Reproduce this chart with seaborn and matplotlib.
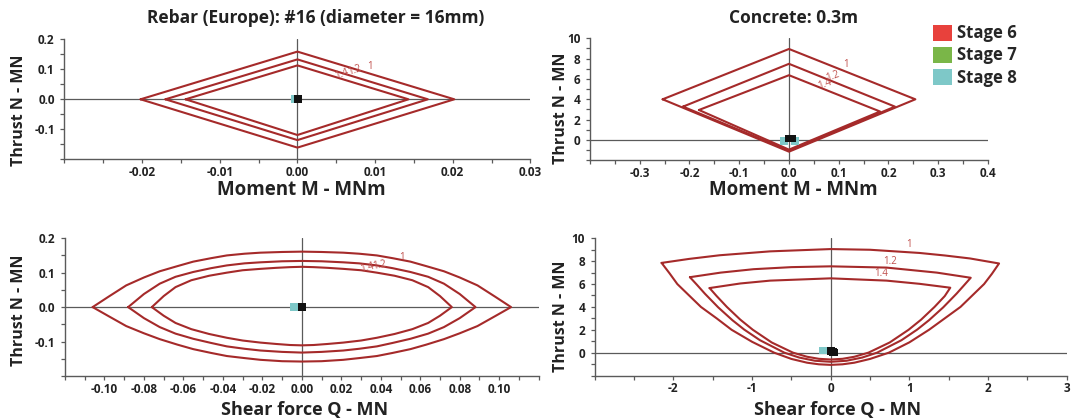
import matplotlib
matplotlib.use('Agg')
import matplotlib.pyplot as plt
from matplotlib.patches import Patch
from matplotlib.ticker import MultipleLocator, FormatStrFormatter
import seaborn as sns

# Style
sns.set_style('ticks')
plt.rcParams['font.family'] = ['Open Sans', 'DejaVu Sans']
plt.rcParams['axes.unicode_minus'] = False

curve_color = '#a52a2a'
axis_grey = '#5a5a5a'
label_red = '#c0504d'
stage_names = ['Stage 6', 'Stage 7', 'Stage 8']
stage_colors = ['#e8413c', '#7ab648', '#7ec8c8']
factor_labels = ['1', '1.2', '1.4']

# Rebar, moment vs thrust (safety factor 1, 1.2, 1.4)
rebar_m_1 = [-0.0202, 0.0, 0.0202, 0.0, -0.0202]
rebar_n_1 = [0.0, 0.159, 0.0, -0.161, 0.0]
rebar_m_12 = [-0.0170, 0.0, 0.0168, 0.0, -0.0170]
rebar_n_12 = [0.0, 0.133, 0.0, -0.136, 0.0]
rebar_m_14 = [-0.0144, 0.0, 0.0143, 0.0, -0.0144]
rebar_n_14 = [0.0, 0.113, 0.0, -0.119, 0.0]

# Concrete, moment vs thrust
conc_m_1 = [-0.254, 0.0, 0.254, 0.0, -0.254]
conc_n_1 = [4.0, 8.95, 4.0, -1.15, 4.0]
conc_m_12 = [-0.213, 0.0, 0.213, 0.0, -0.213]
conc_n_12 = [3.28, 7.49, 3.28, -1.05, 3.28]
conc_m_14 = [-0.181, 0.0, 0.183, 0.0, -0.181]
conc_n_14 = [2.95, 6.37, 2.80, -0.95, 2.95]

# Rebar, shear vs thrust (upper arc left->right, lower arc right->left)
rebar_q_1 = [-0.106, -0.098, -0.089, -0.080, -0.072, -0.063, -0.055, -0.046, -0.038, -0.029, -0.021, -0.010, 0.0,
             0.010, 0.021, 0.029, 0.038, 0.046, 0.055, 0.063, 0.072, 0.080, 0.089, 0.098, 0.106,
             0.098, 0.089, 0.080, 0.072, 0.063, 0.055, 0.046, 0.038, 0.029, 0.021, 0.010, 0.0,
             -0.010, -0.021, -0.029, -0.038, -0.046, -0.055, -0.063, -0.072, -0.080, -0.089, -0.098, -0.106]
rebar_qn_1 = [0.0, 0.030, 0.063, 0.086, 0.104, 0.119, 0.132, 0.142, 0.150, 0.155, 0.158, 0.160, 0.161,
              0.160, 0.158, 0.155, 0.150, 0.142, 0.132, 0.119, 0.104, 0.086, 0.063, 0.030, 0.0,
              -0.026, -0.055, -0.076, -0.093, -0.109, -0.122, -0.133, -0.142, -0.148, -0.153, -0.157, -0.158,
              -0.157, -0.153, -0.148, -0.142, -0.133, -0.122, -0.109, -0.093, -0.076, -0.055, -0.026, 0.0]
rebar_q_12 = [-0.088, -0.080, -0.072, -0.064, -0.055, -0.046, -0.038, -0.029, -0.021, -0.010, 0.0,
              0.010, 0.021, 0.029, 0.038, 0.046, 0.055, 0.064, 0.072, 0.080, 0.088,
              0.080, 0.072, 0.064, 0.055, 0.046, 0.038, 0.029, 0.021, 0.010, 0.0,
              -0.010, -0.021, -0.029, -0.038, -0.046, -0.055, -0.064, -0.072, -0.080, -0.088]
rebar_qn_12 = [0.0, 0.038, 0.068, 0.088, 0.102, 0.113, 0.121, 0.127, 0.130, 0.133, 0.134,
               0.133, 0.130, 0.127, 0.121, 0.113, 0.102, 0.088, 0.068, 0.038, 0.0,
               -0.032, -0.058, -0.077, -0.092, -0.104, -0.114, -0.121, -0.126, -0.130, -0.132,
               -0.130, -0.126, -0.121, -0.114, -0.104, -0.092, -0.077, -0.058, -0.032, 0.0]
rebar_q_14 = [-0.076, -0.070, -0.064, -0.056, -0.047, -0.038, -0.030, -0.021, -0.013, -0.006, 0.0,
              0.006, 0.013, 0.021, 0.030, 0.038, 0.047, 0.056, 0.064, 0.070, 0.076,
              0.070, 0.064, 0.056, 0.047, 0.038, 0.030, 0.021, 0.013, 0.006, 0.0,
              -0.006, -0.013, -0.021, -0.030, -0.038, -0.047, -0.056, -0.064, -0.070, -0.076]
rebar_qn_14 = [0.0, 0.032, 0.058, 0.078, 0.091, 0.100, 0.107, 0.111, 0.114, 0.116, 0.117,
               0.116, 0.114, 0.111, 0.107, 0.100, 0.091, 0.078, 0.058, 0.032, 0.0,
               -0.025, -0.046, -0.064, -0.078, -0.089, -0.097, -0.103, -0.107, -0.110, -0.111,
               -0.110, -0.107, -0.103, -0.097, -0.089, -0.078, -0.064, -0.046, -0.025, 0.0]

# Concrete, shear vs thrust (lower bowl left->right, then top arc right->left)
conc_q_1 = [-2.15, -2.05, -1.95, -1.80, -1.65, -1.45, -1.26, -1.00, -0.72, -0.50, -0.30, -0.15, 0.0,
            0.15, 0.30, 0.50, 0.74, 1.00, 1.25, 1.45, 1.65, 1.80, 1.95, 2.05, 2.14,
            1.77, 1.45, 1.13, 0.50, 0.0, -0.77, -1.41, -1.80, -2.15]
conc_qn_1 = [7.85, 6.95, 6.0, 5.0, 4.0, 3.0, 2.0, 0.95, 0.0, -0.55, -0.88, -1.02, -1.07,
             -1.02, -0.88, -0.55, 0.0, 0.90, 2.0, 3.0, 4.0, 5.0, 6.0, 6.90, 7.80,
             8.24, 8.50, 8.72, 9.0, 9.06, 8.86, 8.52, 8.20, 7.85]
conc_q_12 = [-1.79, -1.70, -1.60, -1.43, -1.25, -1.10, -0.90, -0.59, -0.40, -0.20, 0.0,
             0.20, 0.40, 0.59, 0.90, 1.10, 1.25, 1.43, 1.60, 1.70, 1.78,
             1.35, 0.71, 0.0, -0.50, -0.98, -1.40, -1.79]
conc_qn_12 = [6.60, 5.93, 5.16, 3.96, 2.84, 2.02, 1.09, 0.0, -0.43, -0.71, -0.80,
              -0.71, -0.43, 0.0, 1.09, 2.02, 2.84, 3.96, 5.16, 5.93, 6.55,
              7.0, 7.44, 7.55, 7.48, 7.30, 7.0, 6.60]
conc_q_14 = [-1.54, -1.45, -1.32, -1.15, -0.99, -0.75, -0.48, -0.30, -0.15, 0.0,
             0.15, 0.30, 0.48, 0.75, 0.99, 1.15, 1.32, 1.45, 1.52,
             1.13, 0.71, 0.0, -0.77, -1.15, -1.54]
conc_qn_14 = [5.65, 4.95, 4.0, 2.89, 2.0, 0.89, 0.0, -0.36, -0.54, -0.60,
              -0.54, -0.36, 0.0, 0.89, 2.0, 2.89, 4.0, 4.95, 5.68,
              6.02, 6.30, 6.50, 6.30, 6.05, 5.65]

# Stage results (teal = stage 8, black = plotted on top)
rebar_m_s8 = [-0.0003]
rebar_n_s8 = [0.0]
rebar_m_pt = [0.0001]
rebar_n_pt = [0.0]
conc_m_s8 = [-0.010, 0.012]
conc_n_s8 = [-0.1, -0.1]
conc_m_pt = [0.0, 0.006]
conc_n_pt = [0.15, 0.15]
rebar_q_s8 = [-0.004]
rebar_qn_s8 = [0.0]
rebar_q_pt = [0.0]
rebar_qn_pt = [0.0]
conc_q_s8 = [-0.10]
conc_qn_s8 = [0.2]
conc_q_pt = [0.0, 0.03, 0.05]
conc_qn_pt = [0.15, 0.05, 0.0]

# Curve label positions (x, y) per factor
rebar_m_lab = [(0.0094, 0.109), (0.0074, 0.096), (0.0057, 0.085)]
conc_m_lab = [(0.115, 7.39), (0.087, 6.24), (0.072, 5.51)]
rebar_q_lab = [(0.0505, 0.145), (0.0394, 0.122), (0.033, 0.113)]
conc_q_lab = [(0.99, 9.43), (0.76, 8.0), (0.64, 6.93)]

fig = plt.figure(figsize=(10.78, 4.19), dpi=100)
ax1 = fig.add_axes([0.0598, 0.6198, 0.4322, 0.2864])
ax2 = fig.add_axes([0.5473, 0.6174, 0.3692, 0.2912])
ax3 = fig.add_axes([0.0603, 0.1026, 0.4394, 0.3289])
ax4 = fig.add_axes([0.5517, 0.1038, 0.4378, 0.3274])


def draw_curves(ax, curves):
    for xs, ys in curves:
        sns.lineplot(x=xs, y=ys, sort=False, estimator=None, color=curve_color, lw=1.5, ax=ax)


def draw_points(ax, xs8, ys8, xpt, ypt, size):
    sns.scatterplot(x=xs8, y=ys8, marker='s', s=size, color=stage_colors[2], edgecolor='none', ax=ax, zorder=5)
    sns.scatterplot(x=xpt, y=ypt, marker='s', s=size, color='#111111', edgecolor='none', ax=ax, zorder=6)


def style_axis(ax, xlim, ylim, xmin, ymin, xfmt, yfmt, xticks, yticks):
    ax.set_xlim(xlim)
    ax.set_ylim(ylim)
    ax.axhline(0, color=axis_grey, lw=0.9, zorder=1)
    ax.axvline(0, color=axis_grey, lw=0.9, zorder=1)
    ax.set_xticks(xticks)
    ax.set_yticks(yticks)
    ax.xaxis.set_minor_locator(MultipleLocator(xmin))
    ax.yaxis.set_minor_locator(MultipleLocator(ymin))
    ax.xaxis.set_major_formatter(FormatStrFormatter(xfmt))
    ax.yaxis.set_major_formatter(FormatStrFormatter(yfmt))
    for side in ['top', 'right']:
        ax.spines[side].set_visible(False)
    for side in ['left', 'bottom']:
        ax.spines[side].set_color(axis_grey)
        ax.spines[side].set_linewidth(1.0)
    ax.tick_params(which='both', direction='out', length=3, width=0.9, color=axis_grey,
                   labelsize=8.5, labelcolor='#222222', pad=4)
    ax.tick_params(axis='x', which='both', pad=2)
    for lab in ax.get_xticklabels() + ax.get_yticklabels():
        lab.set_fontweight('bold')
    ax.set_xlabel('')
    ax.set_ylabel('')


def put_labels(ax, positions, rots):
    for (x, y), txt, r in zip(positions, factor_labels, rots):
        ax.text(x, y, txt, color=label_red, fontsize=7, rotation=r, ha='center', va='center', zorder=7)


# Panel 1
draw_curves(ax1, [(rebar_m_1, rebar_n_1), (rebar_m_12, rebar_n_12), (rebar_m_14, rebar_n_14)])
draw_points(ax1, rebar_m_s8, rebar_n_s8, rebar_m_pt, rebar_n_pt, 30)
style_axis(ax1, (-0.03, 0.03), (-0.2, 0.2), 0.005, 0.05, '%.2f', '%.1f',
           [-0.02, -0.01, 0.0, 0.01, 0.02, 0.03], [-0.1, 0.0, 0.1, 0.2])
put_labels(ax1, rebar_m_lab, [0, 20, 20])

# Panel 2
draw_curves(ax2, [(conc_m_1, conc_n_1), (conc_m_12, conc_n_12), (conc_m_14, conc_n_14)])
draw_points(ax2, conc_m_s8, conc_n_s8, conc_m_pt, conc_n_pt, 30)
style_axis(ax2, (-0.4, 0.4), (-2, 10), 0.05, 1, '%.1f', '%d',
           [-0.3, -0.2, -0.1, 0.0, 0.1, 0.2, 0.3, 0.4], [0, 2, 4, 6, 8, 10])
put_labels(ax2, conc_m_lab, [0, 20, 20])

# Panel 3
draw_curves(ax3, [(rebar_q_1, rebar_qn_1), (rebar_q_12, rebar_qn_12), (rebar_q_14, rebar_qn_14)])
draw_points(ax3, rebar_q_s8, rebar_qn_s8, rebar_q_pt, rebar_qn_pt, 30)
style_axis(ax3, (-0.12, 0.12), (-0.2, 0.2), 0.01, 0.05, '%.2f', '%.1f',
           [-0.10, -0.08, -0.06, -0.04, -0.02, 0.0, 0.02, 0.04, 0.06, 0.08, 0.10], [-0.1, 0.0, 0.1, 0.2])
put_labels(ax3, rebar_q_lab, [0, 10, 15])

# Panel 4
draw_curves(ax4, [(conc_q_1, conc_qn_1), (conc_q_12, conc_qn_12), (conc_q_14, conc_qn_14)])
draw_points(ax4, conc_q_s8, conc_qn_s8, conc_q_pt, conc_qn_pt, 30)
style_axis(ax4, (-3, 3), (-2, 10), 0.5, 1, '%d', '%d',
           [-2, -1, 0, 1, 2, 3], [0, 2, 4, 6, 8, 10])
put_labels(ax4, conc_q_lab, [0, 0, 0])

# Titles and axis labels
fig.text(0.2931, 0.9563, 'Rebar (Europe): #16 (diameter = 16mm)', ha='center', va='center',
         fontsize=12.5, fontweight='bold', color='#222222')
fig.text(0.7360, 0.9563, 'Concrete: 0.3m', ha='center', va='center',
         fontsize=12.5, fontweight='bold', color='#222222')
for x, y, txt in [(0.2799, 0.5465, 'Moment M - MNm'), (0.7360, 0.5465, 'Moment M - MNm')]:
    fig.text(x, y, txt, ha='center', va='center', fontsize=13.5, fontweight='bold', color='#222222')
for x, txt in [(0.2829, 'Shear force Q - MN'), (0.7768, 'Shear force Q - MN')]:
    fig.text(x, 0.0096, txt, ha='center', va='baseline', fontsize=13, fontweight='bold', color='#222222')
for x, y in [(0.0176, 0.7375), (0.5201, 0.7408), (0.0176, 0.2600), (0.5201, 0.2460)]:
    fig.text(x, y, 'Thrust N - MN', ha='center', va='center', rotation=90,
             fontsize=11.5, fontweight='bold', color='#222222')

# Legend
handles = [Patch(facecolor=c, edgecolor='none') for c in stage_colors]
fig.legend(handles, stage_names, loc='upper left', bbox_to_anchor=(0.858, 0.962), frameon=False,
           handlelength=1.1, handleheight=1.1, handletextpad=0.3, labelspacing=0.25,
           borderpad=0, prop={'size': 12, 'weight': 'bold'})

fig.savefig('out.png', dpi=100)
